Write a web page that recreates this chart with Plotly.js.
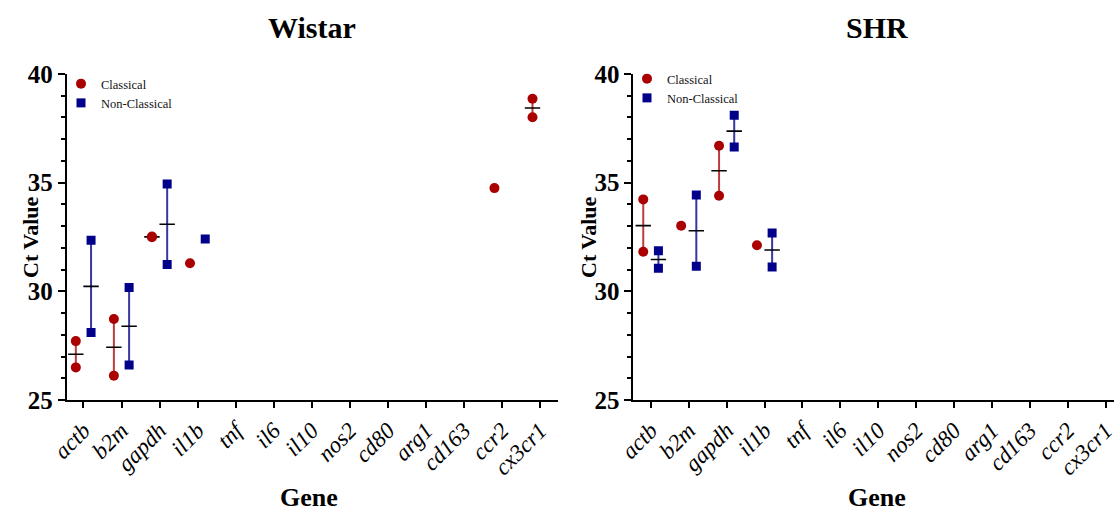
<!DOCTYPE html>
<html>
<head>
<meta charset="utf-8">
<script src="https://cdn.plot.ly/plotly-3.0.1.min.js"></script>
<style>
  html, body { margin: 0; padding: 0; background: #fff; }
  #chart { width: 1119px; height: 514px; }
</style>
</head>
<body>
<div id="chart"></div>
<script>
// Gene panel and Ct values per monocyte subset (one inner list per gene)
const genes = ['actb', 'b2m', 'gapdh', 'il1b', 'tnf', 'il6', 'il10', 'nos2', 'cd80', 'arg1', 'cd163', 'ccr2', 'cx3cr1'];

const wistarClassical    = [[27.71, 26.50], [28.73, 26.12], [32.52, 32.49], [31.29], [], [], [], [], [], [], [], [34.75], [38.86, 38.01]];
const wistarNonClassical = [[32.35, 28.11], [30.18, 26.61], [34.94, 31.24], [32.41], [], [], [], [], [], [], [], [], []];

const shrClassical    = [[34.23, 31.82], [33.02], [36.70, 34.40], [32.12], [], [], [], [], [], [], [], [], []];
const shrNonClassical = [[31.87, 31.06], [34.43, 31.15], [38.10, 36.64], [32.68, 31.12], [], [], [], [], [], [], [], [], []];

const yTicks = [25, 30, 35, 40];
const seriesNames = ['Classical', 'Non-Classical'];

const SERIF = 'Liberation Serif, Times New Roman, serif';
const RED = 'rgb(170,0,0)';
const BLUE = 'rgb(0,0,139)';
const RED_BAR = 'rgb(190,60,60)';
const BLUE_BAR = 'rgb(55,55,160)';

function flatten(groups) {
  const x = [], y = [];
  groups.forEach((vals, i) => vals.forEach(v => { x.push(genes[i]); y.push(v); }));
  return { x, y };
}

// mean with min..max range, for genes measured more than once
function summary(groups) {
  const x = [], y = [], up = [], down = [];
  groups.forEach((vals, i) => {
    if (vals.length < 2) return;
    const m = vals.reduce((a, b) => a + b, 0) / vals.length;
    x.push(genes[i]); y.push(m);
    up.push(Math.max(...vals) - m);
    down.push(m - Math.min(...vals));
  });
  return { x, y, up, down };
}

function panelTraces(classical, nonClassical, xa, ya, legendId) {
  const traces = [];
  // empty carrier so every gene gets its slot on the category axis
  traces.push({
    type: 'scatter', mode: 'markers', x: genes, y: genes.map(() => null),
    xaxis: xa, yaxis: ya, offsetgroup: 'c', showlegend: false, hoverinfo: 'skip'
  });
  [[classical, 'c', RED_BAR], [nonClassical, 'n', BLUE_BAR]].forEach(([groups, og, barColor]) => {
    const s = summary(groups);
    traces.push({
      type: 'scatter', mode: 'markers', x: s.x, y: s.y, xaxis: xa, yaxis: ya,
      offsetgroup: og, showlegend: false, hoverinfo: 'skip',
      marker: { symbol: 'line-ew', size: 11, color: '#000', line: { color: '#000', width: 1.6 } },
      error_y: { type: 'data', symmetric: false, array: s.up, arrayminus: s.down,
                 width: 0, thickness: 2, color: barColor }
    });
  });
  const c = flatten(classical), n = flatten(nonClassical);
  traces.push({
    type: 'scatter', mode: 'markers', name: seriesNames[0], x: c.x, y: c.y,
    xaxis: xa, yaxis: ya, offsetgroup: 'c', legend: legendId,
    marker: { symbol: 'circle', size: 10, color: RED }
  });
  traces.push({
    type: 'scatter', mode: 'markers', name: seriesNames[1], x: n.x, y: n.y,
    xaxis: xa, yaxis: ya, offsetgroup: 'n', legend: legendId,
    marker: { symbol: 'square', size: 9, color: BLUE }
  });
  return traces;
}

const data = [
  ...panelTraces(wistarClassical, wistarNonClassical, 'x', 'y', 'legend'),
  ...panelTraces(shrClassical, shrNonClassical, 'x2', 'y2', 'legend2')
];

const W = 1119, H = 514;
const px = v => v / W, py = v => 1 - v / H;

function xAxis(domain, range) {
  return {
    domain, range, type: 'category', categoryorder: 'array', categoryarray: genes,
    showline: true, linewidth: 2, linecolor: '#000', mirror: false,
    ticks: 'outside', ticklen: 6, tickwidth: 2, tickcolor: '#000',
    tickangle: -45, showgrid: false, zeroline: false,
    tickfont: { family: SERIF, size: 23, style: 'italic', color: '#000' }
  };
}
function yAxis(anchor) {
  return {
    domain: [py(400), py(74)], range: [25, 40], anchor,
    tickmode: 'array', tickvals: yTicks, ticktext: yTicks.map(String),
    showline: true, linewidth: 2, linecolor: '#000',
    ticks: 'outside', ticklen: 7, tickwidth: 2, tickcolor: '#000',
    minor: { dtick: 1, ticks: 'outside', ticklen: 4, tickwidth: 2, tickcolor: '#000', showgrid: false },
    showgrid: false, zeroline: false,
    tickfont: { family: SERIF, size: 25, weight: 'bold', color: '#000' }
  };
}

const legendBase = {
  font: { family: SERIF, size: 12.5, color: '#111' },
  bgcolor: 'rgba(0,0,0,0)', borderwidth: 0, itemwidth: 30,
  xanchor: 'left', yanchor: 'top', tracegroupgap: 0
};

const titleFont = { family: SERIF, size: 30, weight: 'bold', color: '#000' };
const axisTitleFont = { family: SERIF, size: 22, weight: 'bold', color: '#000' };
const geneFont = { family: SERIF, size: 26, weight: 'bold', color: '#000' };

function label(text, x, y, font, angle) {
  return { text, xref: 'paper', yref: 'paper', x: px(x), y: py(y), xanchor: 'center', yanchor: 'middle',
           textangle: angle || 0, showarrow: false, font };
}

const layout = {
  width: W, height: H,
  margin: { l: 0, r: 0, t: 0, b: 0 },
  paper_bgcolor: '#fff', plot_bgcolor: '#fff',
  scattermode: 'group', scattergap: 0.2,
  xaxis: xAxis([px(66.7), px(558)], [-0.44, 12.47]),
  yaxis: yAxis('x'),
  xaxis2: xAxis([px(633.4), px(1114)], [-0.46, 12.22]),
  yaxis2: yAxis('x2'),
  legend: Object.assign({ x: px(61), y: py(69) }, legendBase),
  legend2: Object.assign({ x: px(627), y: py(64) }, legendBase),
  annotations: [
    label('Wistar', 312, 27, titleFont),
    label('SHR', 877, 27, titleFont),
    label('Ct Value', 30, 237, axisTitleFont, -90),
    label('Ct Value', 588, 237, axisTitleFont, -90),
    label('Gene', 309, 497, geneFont),
    label('Gene', 877, 497, geneFont)
  ]
};

Plotly.newPlot('chart', data, layout, { displayModeBar: false, staticPlot: true });
</script>
</body>
</html>
